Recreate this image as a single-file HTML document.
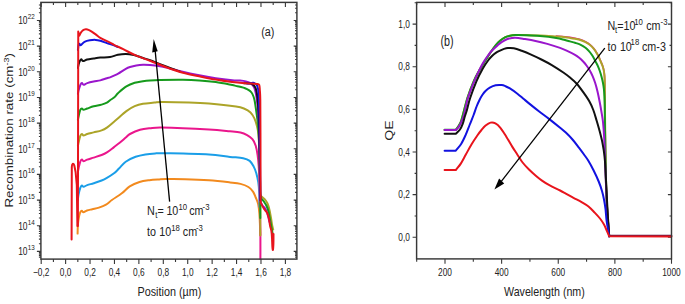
<!DOCTYPE html>
<html><head><meta charset="utf-8"><style>
html,body{margin:0;padding:0;background:#fff;width:685px;height:304px;overflow:hidden;}
svg{display:block;}
text{font-family:"Liberation Sans",sans-serif;}
</style></head><body>
<svg width="685" height="304" viewBox="0 0 685 304">
<rect width="685" height="304" fill="#fff"/>
<path d="M41.2,259.1 V263.9 M41.2,2.4 V7 M53.41,259.1 V261.9 M53.41,2.4 V5 M65.62,259.1 V263.9 M65.62,2.4 V7 M77.83,259.1 V261.9 M77.83,2.4 V5 M90.04,259.1 V263.9 M90.04,2.4 V7 M102.25,259.1 V261.9 M102.25,2.4 V5 M114.46,259.1 V263.9 M114.46,2.4 V7 M126.67,259.1 V261.9 M126.67,2.4 V5 M138.88,259.1 V263.9 M138.88,2.4 V7 M151.09,259.1 V261.9 M151.09,2.4 V5 M163.3,259.1 V263.9 M163.3,2.4 V7 M175.51,259.1 V261.9 M175.51,2.4 V5 M187.72,259.1 V263.9 M187.72,2.4 V7 M199.93,259.1 V261.9 M199.93,2.4 V5 M212.14,259.1 V263.9 M212.14,2.4 V7 M224.35,259.1 V261.9 M224.35,2.4 V5 M236.56,259.1 V263.9 M236.56,2.4 V7 M248.77,259.1 V261.9 M248.77,2.4 V5 M260.98,259.1 V263.9 M260.98,2.4 V7 M273.19,259.1 V261.9 M273.19,2.4 V5 M285.4,259.1 V263.9 M285.4,2.4 V7 M40.9,257.09 H38.9 M296.9,257.09 H295.1 M40.9,255.37 H38.9 M296.9,255.37 H295.1 M40.9,253.89 H38.9 M296.9,253.89 H295.1 M40.9,252.57 H38.9 M296.9,252.57 H295.1 M40.9,251.4 H36.9 M296.9,251.4 H293.7 M40.9,243.68 H38.9 M296.9,243.68 H295.1 M40.9,239.16 H38.9 M296.9,239.16 H295.1 M40.9,235.95 H38.9 M296.9,235.95 H295.1 M40.9,233.46 H38.9 M296.9,233.46 H295.1 M40.9,231.43 H38.9 M296.9,231.43 H295.1 M40.9,229.71 H38.9 M296.9,229.71 H295.1 M40.9,228.23 H38.9 M296.9,228.23 H295.1 M40.9,226.91 H38.9 M296.9,226.91 H295.1 M40.9,225.74 H36.9 M296.9,225.74 H293.7 M40.9,218.02 H38.9 M296.9,218.02 H295.1 M40.9,213.5 H38.9 M296.9,213.5 H295.1 M40.9,210.29 H38.9 M296.9,210.29 H295.1 M40.9,207.8 H38.9 M296.9,207.8 H295.1 M40.9,205.77 H38.9 M296.9,205.77 H295.1 M40.9,204.05 H38.9 M296.9,204.05 H295.1 M40.9,202.57 H38.9 M296.9,202.57 H295.1 M40.9,201.25 H38.9 M296.9,201.25 H295.1 M40.9,200.08 H36.9 M296.9,200.08 H293.7 M40.9,192.36 H38.9 M296.9,192.36 H295.1 M40.9,187.84 H38.9 M296.9,187.84 H295.1 M40.9,184.63 H38.9 M296.9,184.63 H295.1 M40.9,182.14 H38.9 M296.9,182.14 H295.1 M40.9,180.11 H38.9 M296.9,180.11 H295.1 M40.9,178.39 H38.9 M296.9,178.39 H295.1 M40.9,176.91 H38.9 M296.9,176.91 H295.1 M40.9,175.59 H38.9 M296.9,175.59 H295.1 M40.9,174.42 H36.9 M296.9,174.42 H293.7 M40.9,166.7 H38.9 M296.9,166.7 H295.1 M40.9,162.18 H38.9 M296.9,162.18 H295.1 M40.9,158.97 H38.9 M296.9,158.97 H295.1 M40.9,156.48 H38.9 M296.9,156.48 H295.1 M40.9,154.45 H38.9 M296.9,154.45 H295.1 M40.9,152.73 H38.9 M296.9,152.73 H295.1 M40.9,151.25 H38.9 M296.9,151.25 H295.1 M40.9,149.93 H38.9 M296.9,149.93 H295.1 M40.9,148.76 H36.9 M296.9,148.76 H293.7 M40.9,141.04 H38.9 M296.9,141.04 H295.1 M40.9,136.52 H38.9 M296.9,136.52 H295.1 M40.9,133.31 H38.9 M296.9,133.31 H295.1 M40.9,130.82 H38.9 M296.9,130.82 H295.1 M40.9,128.79 H38.9 M296.9,128.79 H295.1 M40.9,127.07 H38.9 M296.9,127.07 H295.1 M40.9,125.59 H38.9 M296.9,125.59 H295.1 M40.9,124.27 H38.9 M296.9,124.27 H295.1 M40.9,123.1 H36.9 M296.9,123.1 H293.7 M40.9,115.38 H38.9 M296.9,115.38 H295.1 M40.9,110.86 H38.9 M296.9,110.86 H295.1 M40.9,107.65 H38.9 M296.9,107.65 H295.1 M40.9,105.16 H38.9 M296.9,105.16 H295.1 M40.9,103.13 H38.9 M296.9,103.13 H295.1 M40.9,101.41 H38.9 M296.9,101.41 H295.1 M40.9,99.93 H38.9 M296.9,99.93 H295.1 M40.9,98.61 H38.9 M296.9,98.61 H295.1 M40.9,97.44 H36.9 M296.9,97.44 H293.7 M40.9,89.72 H38.9 M296.9,89.72 H295.1 M40.9,85.2 H38.9 M296.9,85.2 H295.1 M40.9,81.99 H38.9 M296.9,81.99 H295.1 M40.9,79.5 H38.9 M296.9,79.5 H295.1 M40.9,77.47 H38.9 M296.9,77.47 H295.1 M40.9,75.75 H38.9 M296.9,75.75 H295.1 M40.9,74.27 H38.9 M296.9,74.27 H295.1 M40.9,72.95 H38.9 M296.9,72.95 H295.1 M40.9,71.78 H36.9 M296.9,71.78 H293.7 M40.9,64.06 H38.9 M296.9,64.06 H295.1 M40.9,59.54 H38.9 M296.9,59.54 H295.1 M40.9,56.33 H38.9 M296.9,56.33 H295.1 M40.9,53.84 H38.9 M296.9,53.84 H295.1 M40.9,51.81 H38.9 M296.9,51.81 H295.1 M40.9,50.09 H38.9 M296.9,50.09 H295.1 M40.9,48.61 H38.9 M296.9,48.61 H295.1 M40.9,47.29 H38.9 M296.9,47.29 H295.1 M40.9,46.12 H36.9 M296.9,46.12 H293.7 M40.9,38.4 H38.9 M296.9,38.4 H295.1 M40.9,33.88 H38.9 M296.9,33.88 H295.1 M40.9,30.67 H38.9 M296.9,30.67 H295.1 M40.9,28.18 H38.9 M296.9,28.18 H295.1 M40.9,26.15 H38.9 M296.9,26.15 H295.1 M40.9,24.43 H38.9 M296.9,24.43 H295.1 M40.9,22.95 H38.9 M296.9,22.95 H295.1 M40.9,21.63 H38.9 M296.9,21.63 H295.1 M40.9,20.46 H36.9 M296.9,20.46 H293.7 M40.9,12.74 H38.9 M296.9,12.74 H295.1 M40.9,8.22 H38.9 M296.9,8.22 H295.1 M40.9,5.01 H38.9 M296.9,5.01 H295.1" stroke="#383838" stroke-width="1.1" fill="none"/>
<path d="M77.6,233.6 C77.67,231.07 77.67,228.32 77.8,226 C77.9,224.12 78.07,222.68 78.3,221 C78.54,219.28 78.83,217.41 79.2,215.8 C79.53,214.41 79.88,212.99 80.4,212 C80.75,211.33 81.32,210.75 81.8,210.8 C82.32,210.85 82.66,212.34 83.4,212.3 C84.4,212.24 85.63,210.98 87,210.5 C88.6,209.94 90.42,209.66 92.3,209.2 C94.39,208.69 96.69,208.34 98.9,207.6 C101.26,206.81 103.82,205.88 106,204.6 C108.15,203.34 109.57,201.66 111.9,200 C114.84,197.9 118.74,195.64 121.8,193.3 C124.67,191.11 126.77,188.27 129.7,186.4 C132.67,184.51 136.16,183.05 139.5,182 C142.73,180.98 146.09,180.63 149.4,180.2 C152.69,179.77 156.26,179.6 159.3,179.4 C161.8,179.23 162.81,179.12 166,179.1 C171.37,179.06 178.25,179.01 185,179.2 C192.59,179.41 201.26,179.75 209,180.3 C216.26,180.82 223.86,181.7 230,182.4 C234.36,182.9 237.26,183.09 240.5,183.9 C243.4,184.62 246.18,185.63 248.4,187 C250.35,188.2 251.78,189.85 253,191.6 C254.22,193.35 254.85,195.45 255.7,197.5 C256.59,199.65 257.63,201.7 258.2,204.2 C258.86,207.1 259.12,210.29 259.4,213.7 C259.72,217.56 259.84,222.17 260,226 C260.14,229.27 260.2,232 260.3,235" stroke="#f28a1e" stroke-width="2.0" fill="none" stroke-linejoin="round" stroke-linecap="round"/>
<path d="M77.8,200 C78.07,198.1 78.2,196.25 78.6,194.3 C79.03,192.19 79.63,189.58 80.3,187.8 C80.73,186.65 81.33,185.68 81.9,185.5 C82.39,185.35 82.77,186.86 83.5,186.8 C84.53,186.72 85.72,185.62 87.2,185.1 C89.12,184.42 91.43,183.93 93.7,183.2 C96.23,182.39 99.21,181.46 101.6,180.5 C103.61,179.69 105.02,178.99 106.9,177.9 C109.15,176.59 111.88,174.94 114,173.3 C115.92,171.81 117.21,170.28 119,168.5 C121.11,166.41 123.03,163.58 125.7,161.7 C128.57,159.68 132.24,158.04 135.6,156.8 C138.81,155.61 142.11,154.97 145.4,154.4 C148.67,153.84 151.93,153.6 155.3,153.4 C158.8,153.2 160.04,153.09 166,153.2 C177.94,153.42 196.46,153.68 209,154.4 C217.79,154.91 223.64,156.19 230,156.9 C235.04,157.46 239.4,157.43 243.2,158.2 C245.97,158.76 247.95,159.5 249.7,160.9 C251.45,162.3 252.61,164.56 253.7,166.6 C254.81,168.66 255.59,170.75 256.3,173.2 C257.12,176.02 257.83,179.21 258.3,182.4 C258.8,185.78 259.01,189.1 259.2,192.9 C259.41,197.3 259.4,202.3 259.5,207" stroke="#1a9ee8" stroke-width="2.0" fill="none" stroke-linejoin="round" stroke-linecap="round"/>
<path d="M77.9,172 C78.13,170.73 78.26,169.69 78.6,168.2 C79.06,166.22 79.62,163.38 80.3,161.6 C80.72,160.51 81.35,159.65 81.9,159.6 C82.42,159.55 82.74,161.3 83.5,161.3 C84.51,161.3 85.72,160.14 87.2,159.6 C89.12,158.9 91.42,158.33 93.7,157.6 C96.22,156.79 99.21,155.94 101.6,155 C103.61,154.21 105.04,153.58 106.9,152.4 C109.18,150.95 111.73,148.82 114,147.1 C116.1,145.52 118.04,144.09 120,142.5 C121.97,140.89 123.99,139.04 125.8,137.5 C127.33,136.2 128.03,135.07 130,134 C132.77,132.5 136.61,130.78 140,129.8 C143.28,128.85 146.52,128.57 150,128.2 C153.72,127.8 155.09,127.36 161.6,127.5 C174.76,127.79 195.32,128.74 209,129.5 C218.12,130.01 223.85,130.7 230,131.3 C234.35,131.73 237.37,131.89 240.5,132.6 C243.07,133.19 245.08,134.08 247.1,135.2 C249.05,136.28 251,137.49 252.4,139.2 C253.87,140.99 254.89,143.24 255.7,145.7 C256.62,148.51 257.12,151.75 257.6,155 C258.12,158.51 258.43,161.67 258.7,166 C259.06,171.67 259.3,178.17 259.5,185 C259.73,192.83 259.85,201.67 260,210 C260.15,218.33 260.33,226.75 260.4,235 C260.47,243.08 260.4,251 260.4,259" stroke="#ea168c" stroke-width="2.0" fill="none" stroke-linejoin="round" stroke-linecap="round"/>
<path d="M77.9,146 C78.13,144.83 78.26,143.91 78.6,142.5 C79.06,140.55 79.61,137.67 80.3,135.9 C80.71,134.83 81.35,134.07 81.9,134 C82.42,133.94 82.75,135.5 83.5,135.5 C84.51,135.5 85.72,134.45 87.2,134 C89.12,133.42 91.42,132.97 93.7,132.4 C96.22,131.77 99.23,131.26 101.6,130.4 C103.63,129.66 105.06,128.89 106.9,127.6 C109.19,125.99 111.99,123.38 114,121.7 C115.22,120.68 115.2,120.7 116.6,119.5 C119.33,117.17 123.16,113.48 126.4,111.1 C129.2,109.04 131.87,107.47 134.7,106.2 C137.37,105 139.86,104.26 142.9,103.7 C146.43,103.06 150.92,102.93 154.4,102.6 C157.15,102.33 157.69,101.92 161.6,101.9 C169.22,101.86 180.48,102.11 189,102.4 C196.28,102.65 201.76,102.87 209,103.5 C217.43,104.24 228.48,105.42 236,106.5 C240.12,107.09 241.45,107.5 243.9,108.5 C246.28,109.47 248.72,110.72 250.5,112.4 C252.22,114.02 253.36,116.17 254.4,118.4 C255.52,120.8 256.33,123.64 257,126.3 C257.66,128.91 258.08,130.91 258.4,134.2 C258.85,138.81 259.09,143.97 259.3,150 C259.56,157.57 259.64,167.16 259.8,175 C259.94,181.83 259.6,188.91 260.2,194 C260.47,196.28 261.59,196.17 262.4,197.1 C263.19,198 264.21,198.51 265,199.5 C265.91,200.64 266.82,201.91 267.5,203.5 C268.32,205.41 268.94,207.69 269.5,210 C270.11,212.53 270.53,215.33 271,218 C271.47,220.66 271.86,223.7 272.3,226 C272.59,227.53 272.9,228.33 273.2,229.5" stroke="#aca428" stroke-width="2.0" fill="none" stroke-linejoin="round" stroke-linecap="round"/>
<path d="M77.9,120 C78.13,118.8 78.26,117.84 78.6,116.4 C79.06,114.44 79.59,111.5 80.3,109.8 C80.69,108.87 81.37,108.5 81.9,108.5 C82.43,108.5 82.76,109.8 83.5,109.8 C84.52,109.8 85.74,109 87.2,108.5 C89.14,107.84 91.4,106.92 93.7,106.3 C96.2,105.62 99.21,105.27 101.6,104.6 C103.61,104.04 105.37,103.4 106.9,102.6 C108.17,101.93 108.87,100.99 110,100.2 C111.24,99.33 112.72,98.72 114,97.6 C115.46,96.32 116.4,94.62 118.2,93 C120.54,90.89 123.55,88.16 126.4,86.4 C129.05,84.76 131.9,83.68 134.7,82.8 C137.4,81.95 140.25,81.62 142.9,81.2 C145.35,80.82 147.39,80.6 150,80.4 C153.09,80.17 155.63,79.99 160,79.9 C166.63,79.76 175.89,79.61 183,79.7 C188.99,79.78 193.86,80 199.3,80.4 C204.79,80.8 210.32,81.33 215.8,82.1 C221.29,82.87 227.66,84.15 232.2,85 C234.4,85.41 234.72,85.6 236,85.9 C237.32,86.2 238.59,86.44 240,86.8 C241.59,87.21 243.46,87.62 245,88.2 C246.39,88.72 247.67,89.35 248.8,90.1 C249.84,90.79 250.77,91.54 251.5,92.5 C252.27,93.5 252.81,94.77 253.3,96 C253.81,97.27 254.17,98.49 254.5,100 C254.9,101.82 255.16,103.75 255.5,106 C255.92,108.75 256.39,111.91 256.8,115 C257.23,118.25 257.67,121.25 258,125 C258.4,129.58 258.75,134.58 259,140 C259.29,146.25 259.43,153.33 259.6,160 C259.77,166.67 259.88,173.67 260,180 C260.11,185.67 259.97,191.64 260.3,196 C260.44,197.8 260.83,197.62 261.4,198.5 C262.13,199.62 263.33,200.72 264.2,202 C265.13,203.38 266.09,204.88 266.8,206.5 C267.55,208.21 268.11,210.02 268.6,212 C269.14,214.19 269.47,216.67 269.9,219 C270.33,221.33 270.76,223.63 271.2,226 C271.66,228.46 272.13,231 272.6,233.5" stroke="#169a1c" stroke-width="2.0" fill="none" stroke-linejoin="round" stroke-linecap="round"/>
<path d="M260.3,196 L260.3,235.5" stroke="#aca428" stroke-width="2.0" fill="none" stroke-linejoin="round" stroke-linecap="round"/>
<path d="M260.3,196 L260.3,218" stroke="#169a1c" stroke-width="2.0" fill="none" stroke-linejoin="round" stroke-linecap="round"/>
<path d="M77.9,94 C78.13,92.77 78.21,91.7 78.6,90.3 C79.11,88.5 79.89,85.96 80.6,84.4 C80.99,83.56 81.45,83.04 81.9,83.1 C82.41,83.17 82.74,84.8 83.5,84.8 C84.51,84.8 85.71,83.58 87.2,83.1 C89.11,82.48 91.52,81.95 93.7,81.5 C95.88,81.05 98.12,80.94 100.3,80.4 C102.52,79.84 104.97,78.8 106.9,78.2 C108.21,77.8 108.91,77.8 110,77.4 C111.28,76.93 112.65,76.22 114,75.6 C115.39,74.96 116.55,74.55 118.2,73.6 C120.49,72.28 123.5,70.08 125.8,68.8 C127.44,67.88 128.4,67.5 130,67 C131.9,66.4 134.15,65.86 136.3,65.5 C138.49,65.13 140.74,64.87 143,64.8 C145.31,64.73 147.42,64.87 150,65.1 C153.09,65.37 156.97,65.84 160,66.3 C162.44,66.67 164.09,67.06 166.4,67.6 C169.09,68.23 170.9,68.84 175,69.8 C181.87,71.41 191.83,73.76 199.3,75.3 C205.43,76.56 210.3,77.38 215.8,78.2 C221.26,79.01 227.42,79.73 232.2,80.2 C235.49,80.53 237.56,80.39 240,80.6 C242.13,80.79 244.1,81 245.9,81.4 C247.43,81.74 248.83,82.16 250,82.8 C251.03,83.36 251.78,84.17 252.5,85 C253.22,85.83 253.82,86.65 254.3,87.8 C254.89,89.22 255.31,90.86 255.7,92.7 C256.17,94.92 256.55,97.34 256.9,100 C257.31,103.1 257.7,106.5 258,110 C258.33,113.83 258.6,116.72 258.8,122 C259.1,130.06 259.3,140.5 259.5,150 C259.7,159.83 259.85,170.82 260,180 C260.12,187.49 259.78,194.5 260.3,200 C260.58,202.96 261.57,203.92 262.4,205.4 C263.03,206.52 264.03,206.89 264.7,207.8 C265.4,208.76 266,209.75 266.5,211 C267.1,212.49 267.52,214.24 268,216 C268.52,217.91 269,220 269.5,222" stroke="#9a16cc" stroke-width="2.0" fill="none" stroke-linejoin="round" stroke-linecap="round"/>
<path d="M77.9,68 C78.13,66.83 78.31,65.62 78.6,64.5 C78.87,63.45 79.15,62.4 79.6,61.5 C80.02,60.67 80.62,59.37 81.2,59.3 C81.76,59.23 82.14,61.07 83,61.1 C84.14,61.14 85.59,59.89 87.2,59.5 C89.15,59.03 91.52,58.82 93.7,58.5 C95.89,58.18 97.84,57.83 100.3,57.6 C103.27,57.33 106.94,57.49 110,57 C112.81,56.55 115.25,55.3 117.9,54.8 C120.51,54.3 123.17,53.97 125.8,54 C128.44,54.03 131.2,54.48 133.7,55 C136.03,55.48 138.26,56.35 140.3,57 C142.03,57.55 143.41,58.07 145,58.6 C146.64,59.14 147.94,59.45 150,60.2 C152.94,61.28 156.66,62.82 160,64.1 C163.33,65.38 166.66,66.65 170,67.9 C173.33,69.15 176.67,70.37 180,71.6" stroke="#111111" stroke-width="2.0" fill="none" stroke-linejoin="round" stroke-linecap="round"/>
<path d="M244,83.2 C246.27,83.3 248.88,83.01 250.8,83.5 C252.31,83.88 253.41,84.78 254.3,85.8 C255.21,86.84 255.76,87.84 256.2,89.7 C256.89,92.58 257.32,95.61 257.7,100 C258.25,106.38 258.7,113.35 259,122 C259.4,133.35 259.59,147.17 259.8,160 C260.02,173.17 260.13,186.67 260.3,200" stroke="#111111" stroke-width="2.0" fill="none" stroke-linejoin="round" stroke-linecap="round"/>
<path d="M77.9,50 C78.13,48.33 78.3,46.36 78.6,45 C78.76,44.26 78.99,43.65 79.3,43.7 C79.66,43.75 80.14,45.25 80.6,45.3 C81.04,45.35 81.44,44.5 82,44 C82.74,43.34 83.36,42.34 84.5,41.8 C85.96,41.11 87.97,40.61 89.8,40.3 C91.7,39.98 93.85,39.81 95.7,39.9 C97.35,39.98 98.62,40.32 100.3,40.8 C102.35,41.39 104.65,42.35 106.9,43.1 C109.22,43.88 111.9,44.66 114,45.4 C115.6,45.96 116.67,46.47 118,47" stroke="#1212e0" stroke-width="2.0" fill="none" stroke-linejoin="round" stroke-linecap="round"/>
<path d="M247,83.5 C248.27,83.4 249.64,83.33 250.8,83.2 C251.74,83.1 252.43,82.56 253.3,82.8 C254.39,83.1 255.94,83.73 256.7,84.8 C257.57,86.03 257.9,87.61 258.2,89.7 C258.63,92.67 258.72,95.62 258.9,100 C259.16,106.39 259.34,113.36 259.5,122 C259.71,133.36 259.87,147.17 260,160 C260.14,173.17 260.2,186.67 260.3,200" stroke="#1212e0" stroke-width="2.0" fill="none" stroke-linejoin="round" stroke-linecap="round"/>
<path d="M71.6,239.5 L71.8,167 C71.9,163.6 73.3,162.6 74.3,165.5 L75.6,172 L76.8,185 L77.4,226 L77.9,226 L78.25,31.6 L79.2,35.8  C79.63,34.93 79.98,34.02 80.5,33.2 C81.02,32.38 81.65,31.54 82.3,30.9 C82.88,30.34 83.53,29.88 84.2,29.6 C84.83,29.34 85.51,29.25 86.2,29.3 C86.95,29.35 87.68,29.56 88.5,29.9 C89.51,30.32 90.57,30.89 91.7,31.6 C93.07,32.46 94.57,33.57 96,34.6 C97.44,35.64 98.37,36.7 100.3,37.8 C103.04,39.37 107.23,41.19 110,42.6 C111.8,43.52 112.24,43.92 114,44.8 C116.64,46.12 119.82,47.55 123.2,49.2 C127.25,51.18 131.83,53.78 136.3,55.7 C140.76,57.62 145.22,58.86 150,60.7 C155.26,62.73 160.89,65.29 166.4,67.3 C171.86,69.29 177.37,71.19 182.9,72.7 C188.34,74.19 193.82,75.15 199.3,76.3 C204.79,77.45 210.3,78.63 215.8,79.6 C221.26,80.56 227.02,81.44 232.2,82.1 C236.76,82.68 241.2,83.01 245,83.3 C247.8,83.51 249.82,83.49 252,83.6 C253.88,83.69 255.75,83.64 257.2,83.9 C258.15,84.07 258.85,84.12 259.2,84.9 C259.72,86.05 259.65,87.65 259.8,89.7 C260.02,92.69 260.23,93.72 260.3,100 C260.46,113.82 260.45,133.33 260.5,150 C260.55,166.67 260.42,185.92 260.6,200 C260.65,203.75 260.7,202.21 261.2,203.5 C261.86,205.21 263.06,207.35 264.1,209 C265.02,210.45 266.34,211.31 267.1,212.8 C267.94,214.44 268.43,216.35 268.9,218.4 C269.43,220.75 269.64,223.69 270.1,226 C270.48,227.89 271.11,229.15 271.4,231 C271.74,233.15 271.84,235.5 272,238 C272.18,240.83 272.21,244.47 272.4,247 C272.51,248.47 272.76,250.42 272.9,250 C273.09,249.42 273.31,246.33 273.4,244 C273.51,241 273.47,237.33 273.5,234" stroke="#e8141c" stroke-width="2.0" fill="none" stroke-linejoin="round" stroke-linecap="round"/>
<path d="M169.6,201.6 L155.1,50" stroke="#000" stroke-width="1.3" fill="none"/>
<path d="M153.7,38.9 L152.2,52.4 L157.7,51.2 Z" fill="#000"/>
<rect x="40.9" y="2.4" width="256" height="256.7" fill="none" stroke="#383838" stroke-width="1.45"/>
<path d="M416.69,258.9 V261.7 M416.69,2.4 V5 M445,258.9 V263.7 M445,2.4 V7 M473.31,258.9 V261.7 M473.31,2.4 V5 M501.63,258.9 V263.7 M501.63,2.4 V7 M529.94,258.9 V261.7 M529.94,2.4 V5 M558.25,258.9 V263.7 M558.25,2.4 V7 M586.57,258.9 V261.7 M586.57,2.4 V5 M614.88,258.9 V263.7 M614.88,2.4 V7 M643.19,258.9 V261.7 M643.19,2.4 V5 M671.5,258.9 V263.7 M671.5,2.4 V7 M416.6,237.3 H412.6 M671.5,237.3 H667.9 M416.6,215.98 H414.6 M671.5,215.98 H669.5 M416.6,194.66 H412.6 M671.5,194.66 H667.9 M416.6,173.34 H414.6 M671.5,173.34 H669.5 M416.6,152.02 H412.6 M671.5,152.02 H667.9 M416.6,130.7 H414.6 M671.5,130.7 H669.5 M416.6,109.38 H412.6 M671.5,109.38 H667.9 M416.6,88.06 H414.6 M671.5,88.06 H669.5 M416.6,66.74 H412.6 M671.5,66.74 H667.9 M416.6,45.42 H414.6 M671.5,45.42 H669.5 M416.6,24.1 H412.6 M671.5,24.1 H667.9 M416.6,2.78 H414.6 M671.5,2.78 H669.5" stroke="#383838" stroke-width="1.1" fill="none"/>
<path d="M556.3,36 C559.2,36.23 562.41,36.43 565,36.7 C566.97,36.9 568.34,37.13 570,37.4 C571.67,37.67 573.31,37.96 575,38.3 C576.75,38.66 578.56,38.95 580.3,39.5 C582.06,40.05 583.89,40.78 585.5,41.6 C587.02,42.38 588.39,43.26 589.7,44.3 C591.03,45.36 592.32,46.64 593.4,47.9 C594.42,49.08 595.19,50.35 596,51.6 C596.79,52.82 597.56,54.05 598.2,55.3 C598.82,56.51 599.28,57.78 599.8,59 C600.31,60.18 600.82,61.33 601.3,62.5 C601.78,63.66 602.3,64.77 602.7,66 C603.13,67.3 603.52,68.62 603.8,70.1 C604.12,71.78 604.35,73.4 604.5,75.5 C604.69,78.2 604.75,80.62 604.8,84.5 C604.88,90.28 604.84,97.42 604.9,104.5 C604.97,112.42 605.09,120.75 605.2,129.5 C605.32,139.08 605.42,149.5 605.6,159.5 C605.78,169.5 605.95,179.92 606.3,189.5 C606.62,198.25 607.1,206.48 607.6,214.5 C608.06,221.91 608.67,228.7 609.2,235.8" stroke="#ea168c" stroke-width="1.6" fill="none" stroke-linejoin="round" stroke-linecap="round"/>
<path d="M444.6,129.9 L455.8,129.9 C456.73,128.6 457.74,127.5 458.6,126 C459.6,124.26 460.38,123.44 461.4,120.2 C463.34,114.04 465.28,104.78 467.5,97.8 C469.48,91.58 471.73,85.79 474,80.6 C475.9,76.26 477.97,72.78 480,69.2 C481.87,65.92 483.91,62.86 485.7,60 C487.24,57.53 488.42,55.53 490,53.2 C491.72,50.66 493.76,47.68 495.6,45.4 C497.1,43.54 498.37,42.16 500,40.8 C501.64,39.43 503.61,38.11 505.4,37.2 C506.94,36.41 508.37,36.04 510,35.7 C511.74,35.34 513.34,35.19 515.5,35.1 C518.34,34.99 521.38,35.06 525,35.1 C529.55,35.16 534.89,35.17 540,35.4 C545.33,35.64 551.49,36.15 556.3,36.5 C559.82,36.75 562.41,36.93 565,37.2 C566.97,37.4 568.34,37.63 570,37.9 C571.67,38.17 573.31,38.46 575,38.8 C576.75,39.16 578.56,39.45 580.3,40 C582.06,40.55 583.89,41.28 585.5,42.1 C587.02,42.88 588.39,43.76 589.7,44.8 C591.03,45.86 592.32,47.14 593.4,48.4 C594.42,49.58 595.19,50.85 596,52.1 C596.79,53.32 597.56,54.55 598.2,55.8 C598.82,57.01 599.28,58.28 599.8,59.5 C600.31,60.68 600.82,61.83 601.3,63 C601.78,64.16 602.3,65.27 602.7,66.5 C603.13,67.8 603.52,69.12 603.8,70.6 C604.12,72.28 604.35,73.9 604.5,76 C604.69,78.7 604.75,81.12 604.8,85 C604.88,90.78 604.84,97.92 604.9,105 C604.97,112.92 605.09,121.25 605.2,130 C605.32,139.58 605.42,150 605.6,160 C605.78,170 605.95,180.42 606.3,190 C606.62,198.75 607.1,206.98 607.6,215 C608.06,222.41 608.67,229.2 609.2,236.3" stroke="#aca428" stroke-width="2.0" fill="none" stroke-linejoin="round" stroke-linecap="round"/>
<path d="M444.6,129.8 L455.8,129.8 C456.73,128.53 457.74,127.48 458.6,126 C459.61,124.28 460.38,123.44 461.4,120.2 C463.34,114.04 465.28,104.78 467.5,97.8 C469.48,91.58 471.73,85.79 474,80.6 C475.9,76.26 477.97,72.78 480,69.2 C481.87,65.92 483.91,62.86 485.7,60 C487.24,57.53 488.42,55.53 490,53.2 C491.72,50.66 493.76,47.68 495.6,45.4 C497.1,43.54 498.37,42.16 500,40.8 C501.64,39.43 503.61,38.11 505.4,37.2 C506.94,36.41 508.37,36.04 510,35.7 C511.74,35.34 513.34,35.17 515.5,35.1 C518.34,35.01 521.38,35.08 525,35.2 C529.55,35.35 534.9,35.46 540,35.9 C545.33,36.36 551.51,37.11 556.3,37.9 C559.84,38.48 562.41,39.34 565,40 C566.97,40.5 568.33,40.93 570,41.4 C571.67,41.87 573.32,42.28 575,42.8 C576.75,43.34 578.58,43.8 580.3,44.6 C582.08,45.43 583.96,46.54 585.5,47.7 C586.92,48.77 588.11,50.07 589.2,51.3 C590.21,52.43 591,53.61 591.8,54.8 C592.57,55.95 593.24,57.11 593.9,58.3 C594.57,59.51 595.16,60.76 595.8,62 C596.46,63.26 597.18,64.4 597.8,65.8 C598.51,67.4 599.19,69.19 599.8,71 C600.45,72.92 601.06,74.99 601.6,77 C602.13,78.99 602.62,80.99 603,83 C603.38,84.99 603.68,86.89 603.9,89 C604.14,91.32 604.27,93.75 604.4,96.3 C604.54,99.08 604.63,100.83 604.7,105 C604.83,112.06 604.87,121.25 605,130 C605.14,139.58 605.3,150 605.5,160 C605.7,170 605.85,180.42 606.2,190 C606.52,198.75 606.98,206.98 607.5,215 C607.98,222.41 608.63,229.2 609.2,236.3" stroke="#169a1c" stroke-width="2.0" fill="none" stroke-linejoin="round" stroke-linecap="round"/>
<path d="M444.6,130.1 L455.8,130.1 C456.8,129.03 457.92,128.26 458.8,126.9 C459.88,125.23 460.84,122.95 461.7,121 C462.51,119.15 463.05,118.25 463.8,115.5 C465.09,110.75 466.09,104.12 467.8,98.5 C469.55,92.75 471.97,86.79 474.2,81.4 C476.24,76.46 478.56,71.57 480.6,67.5 C482.13,64.44 483.53,62.23 484.9,60 C485.99,58.23 486.91,56.98 488,55.5 C489.11,53.98 490.06,52.53 491.5,51 C493.23,49.16 495.6,47.07 497.5,45.4 C499.1,44 500.37,42.85 502,41.8 C503.67,40.72 505.64,39.66 507.4,39 C508.91,38.43 510.4,38.31 511.8,38.1 C513.04,37.91 513.75,37.7 515.3,37.8 C517.71,37.96 520.62,38.43 523.7,38.9 C527.36,39.46 531.58,40.07 535.5,40.9 C539.45,41.74 543.31,42.76 547.3,43.9 C551.47,45.09 556.29,46.61 560,47.9 C562.72,48.84 564.27,49.53 566.6,50.6 C569.27,51.83 572.59,53.42 575,54.8 C576.79,55.82 577.84,56.67 579.2,57.8 C580.64,59 582.13,60.46 583.4,61.8 C584.56,63.02 585.51,64.17 586.5,65.5 C587.55,66.91 588.55,68.36 589.5,70 C590.55,71.8 591.59,73.72 592.5,75.8 C593.49,78.06 594.39,80.47 595.2,83 C596.06,85.71 596.79,88.53 597.5,91.5 C598.26,94.7 598.95,98.16 599.6,101.5 C600.25,104.83 600.84,108.12 601.4,111.5 C601.97,114.95 602.58,118.04 603,122 C603.51,126.87 603.89,132.17 604.2,138 C604.56,144.83 604.73,152.83 605,160 C605.26,166.83 605.47,172.51 605.8,180 C606.2,189.18 606.61,200.31 607.2,210 C607.75,219.08 608.53,227.53 609.2,236.3" stroke="#9a16cc" stroke-width="2.0" fill="none" stroke-linejoin="round" stroke-linecap="round"/>
<path d="M444.6,133.8 L455.8,133.8 C457.13,132.47 458.69,131.39 459.8,129.8 C460.99,128.09 461.9,126.03 462.7,123.9 C463.57,121.6 464.08,118.84 464.8,116.5 C465.45,114.38 466.08,113 466.8,110.5 C467.81,107 468.55,102.88 470,98.5 C471.75,93.18 474.14,86.7 476.4,81.4 C478.41,76.7 480.65,72.34 482.8,68.5 C484.55,65.37 486.38,62.83 488.1,60.5 C489.45,58.66 490.66,57.34 492,56 C493.23,54.77 494.45,53.71 495.8,52.8 C497.12,51.91 498.6,51.26 500,50.6 C501.34,49.96 502.66,49.34 504,48.9 C505.29,48.48 506.42,48.11 507.9,48 C509.69,47.87 511.7,47.77 513.8,48.2 C516.3,48.71 518.92,49.75 521.7,50.8 C524.85,51.99 528.33,53.45 531.6,54.9 C534.89,56.35 538.11,57.84 541.4,59.5 C544.84,61.24 548.25,62.98 551.8,65.1 C555.69,67.42 560.23,70.42 563.7,72.8 C566.3,74.58 567.92,75.86 570,77.6 C572.19,79.43 574.41,81.19 576.5,83.5 C578.87,86.12 581.24,89.39 583.4,92.4 C585.5,95.33 587.61,98.29 589.3,101.3 C590.91,104.15 592.13,106.91 593.3,110 C594.56,113.31 595.55,116.99 596.6,120.5 C597.65,123.99 598.65,127.4 599.6,131 C600.59,134.77 601.61,138.57 602.4,142.6 C603.24,146.9 603.99,151.47 604.5,156 C605.02,160.61 605.2,164.84 605.5,170 C605.86,176.17 606.16,183.17 606.5,190 C606.86,197.17 607.16,204.48 607.6,212 C608.06,219.91 608.67,228.2 609.2,236.3" stroke="#111111" stroke-width="2.0" fill="none" stroke-linejoin="round" stroke-linecap="round"/>
<path d="M444.6,150.7 L455.8,150.7 C457.63,148.37 459.69,146.28 461.3,143.7 C462.99,140.98 464.34,137.87 465.7,134.8 C467.1,131.64 468.29,128.28 469.6,125 C470.92,121.68 472.38,118.22 473.6,115 C474.71,112.05 475.56,109.15 476.6,106.5 C477.53,104.15 478.5,102.02 479.5,100 C480.4,98.19 481.27,96.54 482.3,95 C483.27,93.54 484.27,92.21 485.5,91 C486.77,89.75 488.16,88.52 489.8,87.6 C491.56,86.62 493.7,85.72 495.7,85.3 C497.63,84.89 499.81,84.94 501.6,85.1 C503.08,85.24 504.22,85.7 505.5,86.2 C506.85,86.73 507.89,87.19 509.5,88.2 C511.86,89.69 514.96,91.86 517.4,93.7 C519.6,95.36 521.41,97.04 523.4,98.7 C525.37,100.34 527,101.73 529.3,103.6 C532.26,106 535.89,108.93 539.2,111.5 C542.46,114.03 545.64,116.28 549,118.9 C552.61,121.72 556.85,125.15 560.1,127.8 C562.45,129.72 563.86,130.77 565.8,132.6 C568,134.67 570.36,137.04 572.5,139.5 C574.72,142.04 576.89,144.98 578.9,147.6 C580.73,149.98 582.39,152.26 584,154.5 C585.49,156.56 586.79,158.17 588.2,160.5 C589.92,163.34 591.72,166.64 593.4,170 C595.22,173.64 597.18,177.8 598.7,181.5 C600.05,184.8 601.09,187.89 602,191 C602.85,193.89 603.43,196.57 604,199.5 C604.6,202.57 605.09,205.66 605.5,209 C605.95,212.66 606.03,216.32 606.6,220.5 C607.27,225.42 608.33,231.03 609.2,236.3" stroke="#1212e0" stroke-width="2.0" fill="none" stroke-linejoin="round" stroke-linecap="round"/>
<path d="M609.2,235.6 L671.5,235.6" stroke="#5a1a4a" stroke-width="1.6" fill="none" stroke-linejoin="round" stroke-linecap="round"/>
<path d="M444.6,170.1 L455.8,170.1 C457.47,167.93 459.23,166.02 460.8,163.6 C462.53,160.92 463.98,157.88 465.7,154.8 C467.58,151.42 469.57,147.56 471.6,144.2 C473.51,141.03 475.65,137.86 477.5,135.2 C478.95,133.12 480.12,131.63 481.5,130 C482.82,128.43 484.08,126.85 485.6,125.6 C487.08,124.38 488.81,123 490.5,122.6 C492.07,122.23 493.88,122.5 495.4,123.3 C497.18,124.23 498.79,125.82 500.4,127.8 C502.43,130.29 504.37,133.63 506.3,136.7 C508.3,139.89 510.3,143.52 512.2,146.6 C513.86,149.29 515.33,151.44 517,154 C518.8,156.74 520.56,159.87 522.6,162.5 C524.56,165.04 526.78,167.28 529,169.5 C531.18,171.68 533.55,173.78 535.8,175.7 C537.88,177.48 539.83,179.08 542,180.6 C544.2,182.14 546.21,183.43 548.9,184.9 C552.24,186.73 556.82,188.81 560.1,190.5 C562.46,191.71 563.73,192.47 565.8,193.6 C568.2,194.91 570.9,196.4 573.5,197.8 C576.16,199.23 579.03,200.61 581.6,202.1 C584.03,203.51 586.35,204.78 588.5,206.5 C590.72,208.28 592.74,210.55 594.7,212.6 C596.57,214.55 598.41,216.47 600,218.5 C601.51,220.44 602.87,222.5 604,224.5 C605.04,226.33 605.66,228.1 606.5,230 C607.39,232.03 608.3,234.2 609.2,236.3 L671.5,236.5" stroke="#e8141c" stroke-width="2.0" fill="none" stroke-linejoin="round" stroke-linecap="round"/>
<path d="M604.8,48.1 L501.3,181.4" stroke="#000" stroke-width="1.3" fill="none"/>
<path d="M494.4,189.5 L499.1,178.6 L504.2,183.5 Z" fill="#000"/>
<rect x="416.6" y="2.4" width="254.9" height="256.5" fill="none" stroke="#383838" stroke-width="1.45"/>
<text transform="translate(41.2,276.2) scale(0.8,1)" font-size="10.4" text-anchor="middle" fill="#222">−0,2</text>
<text transform="translate(65.62,276.2) scale(0.8,1)" font-size="10.4" text-anchor="middle" fill="#222">0,0</text>
<text transform="translate(90.04,276.2) scale(0.8,1)" font-size="10.4" text-anchor="middle" fill="#222">0,2</text>
<text transform="translate(114.46,276.2) scale(0.8,1)" font-size="10.4" text-anchor="middle" fill="#222">0,4</text>
<text transform="translate(138.88,276.2) scale(0.8,1)" font-size="10.4" text-anchor="middle" fill="#222">0,6</text>
<text transform="translate(163.3,276.2) scale(0.8,1)" font-size="10.4" text-anchor="middle" fill="#222">0,8</text>
<text transform="translate(187.72,276.2) scale(0.8,1)" font-size="10.4" text-anchor="middle" fill="#222">1,0</text>
<text transform="translate(212.14,276.2) scale(0.8,1)" font-size="10.4" text-anchor="middle" fill="#222">1,2</text>
<text transform="translate(236.56,276.2) scale(0.8,1)" font-size="10.4" text-anchor="middle" fill="#222">1,4</text>
<text transform="translate(260.98,276.2) scale(0.8,1)" font-size="10.4" text-anchor="middle" fill="#222">1,6</text>
<text transform="translate(285.4,276.2) scale(0.8,1)" font-size="10.4" text-anchor="middle" fill="#222">1,8</text>
<text transform="translate(27.5,255.2) scale(0.75,1)" font-size="11.232000000000001" text-anchor="end" fill="#222">10</text>
<text transform="translate(27.8,250.4) scale(0.8,1)" font-size="7.800000000000001" text-anchor="start" fill="#222">13</text>
<text transform="translate(27.5,229.54) scale(0.75,1)" font-size="11.232000000000001" text-anchor="end" fill="#222">10</text>
<text transform="translate(27.8,224.74) scale(0.8,1)" font-size="7.800000000000001" text-anchor="start" fill="#222">14</text>
<text transform="translate(27.5,203.88) scale(0.75,1)" font-size="11.232000000000001" text-anchor="end" fill="#222">10</text>
<text transform="translate(27.8,199.08) scale(0.8,1)" font-size="7.800000000000001" text-anchor="start" fill="#222">15</text>
<text transform="translate(27.5,178.22) scale(0.75,1)" font-size="11.232000000000001" text-anchor="end" fill="#222">10</text>
<text transform="translate(27.8,173.42) scale(0.8,1)" font-size="7.800000000000001" text-anchor="start" fill="#222">16</text>
<text transform="translate(27.5,152.56) scale(0.75,1)" font-size="11.232000000000001" text-anchor="end" fill="#222">10</text>
<text transform="translate(27.8,147.76) scale(0.8,1)" font-size="7.800000000000001" text-anchor="start" fill="#222">17</text>
<text transform="translate(27.5,126.9) scale(0.75,1)" font-size="11.232000000000001" text-anchor="end" fill="#222">10</text>
<text transform="translate(27.8,122.1) scale(0.8,1)" font-size="7.800000000000001" text-anchor="start" fill="#222">18</text>
<text transform="translate(27.5,101.24) scale(0.75,1)" font-size="11.232000000000001" text-anchor="end" fill="#222">10</text>
<text transform="translate(27.8,96.44) scale(0.8,1)" font-size="7.800000000000001" text-anchor="start" fill="#222">19</text>
<text transform="translate(27.5,75.58) scale(0.75,1)" font-size="11.232000000000001" text-anchor="end" fill="#222">10</text>
<text transform="translate(27.8,70.78) scale(0.8,1)" font-size="7.800000000000001" text-anchor="start" fill="#222">20</text>
<text transform="translate(27.5,49.92) scale(0.75,1)" font-size="11.232000000000001" text-anchor="end" fill="#222">10</text>
<text transform="translate(27.8,45.12) scale(0.8,1)" font-size="7.800000000000001" text-anchor="start" fill="#222">21</text>
<text transform="translate(27.5,24.26) scale(0.75,1)" font-size="11.232000000000001" text-anchor="end" fill="#222">10</text>
<text transform="translate(27.8,19.46) scale(0.8,1)" font-size="7.800000000000001" text-anchor="start" fill="#222">22</text>
<text transform="translate(445,275.6) scale(0.8,1)" font-size="10.4" text-anchor="middle" fill="#222">200</text>
<text transform="translate(501.63,275.6) scale(0.8,1)" font-size="10.4" text-anchor="middle" fill="#222">400</text>
<text transform="translate(558.25,275.6) scale(0.8,1)" font-size="10.4" text-anchor="middle" fill="#222">600</text>
<text transform="translate(614.88,275.6) scale(0.8,1)" font-size="10.4" text-anchor="middle" fill="#222">800</text>
<text transform="translate(671.5,275.6) scale(0.8,1)" font-size="10.4" text-anchor="middle" fill="#222">1000</text>
<text transform="translate(409.9,241) scale(0.8,1)" font-size="10.4" text-anchor="end" fill="#222">0,0</text>
<text transform="translate(409.9,198.36) scale(0.8,1)" font-size="10.4" text-anchor="end" fill="#222">0,2</text>
<text transform="translate(409.9,155.72) scale(0.8,1)" font-size="10.4" text-anchor="end" fill="#222">0,4</text>
<text transform="translate(409.9,113.08) scale(0.8,1)" font-size="10.4" text-anchor="end" fill="#222">0,6</text>
<text transform="translate(409.9,70.44) scale(0.8,1)" font-size="10.4" text-anchor="end" fill="#222">0,8</text>
<text transform="translate(409.9,27.8) scale(0.8,1)" font-size="10.4" text-anchor="end" fill="#222">1,0</text>
<text transform="translate(169.4,296.4) scale(0.885,1)" font-size="12.2" text-anchor="middle" fill="#222">Position (µm)</text>
<text transform="translate(544.4,295.8) scale(0.89,1)" font-size="12" text-anchor="middle" fill="#222">Wavelength (nm)</text>
<text transform="translate(13.4,207.6) rotate(-90) scale(1,0.85)" font-size="13.4" fill="#222">Recombination rate (cm<tspan dy="-5.5" font-size="9">-3</tspan><tspan dy="5.5">)</tspan></text>
<text transform="translate(393.3,140.7) rotate(-90) scale(1,0.76)" font-size="14" fill="#222">QE</text>
<text transform="translate(261.2,36.1) scale(0.8,1)" font-size="13.5" text-anchor="start" fill="#222">(a)</text>
<text transform="translate(440.4,46.4) scale(0.78,1)" font-size="13.8" text-anchor="start" fill="#222">(b)</text>
<text transform="translate(147,215) scale(0.88,1)" font-size="12.2" text-anchor="start" fill="#222">N</text>
<text transform="translate(155.3,218.4) scale(0.88,1)" font-size="8.8" text-anchor="start" fill="#222">t</text>
<text transform="translate(157.6,215) scale(0.88,1)" font-size="12.2" text-anchor="start" fill="#222">=</text>
<text transform="translate(166.4,215) scale(0.88,1)" font-size="12.2" text-anchor="start" fill="#222">10</text>
<text transform="translate(178.4,209.8) scale(0.88,1)" font-size="8.8" text-anchor="start" fill="#222">10</text>
<text transform="translate(189.2,215) scale(0.88,1)" font-size="12.2" text-anchor="start" fill="#222">cm</text>
<text transform="translate(202.6,209.8) scale(0.88,1)" font-size="8.8" text-anchor="start" fill="#222">-3</text>
<text transform="translate(147,235.7) scale(0.88,1)" font-size="12.2" text-anchor="start" fill="#222">to</text>
<text transform="translate(159.2,235.7) scale(0.88,1)" font-size="12.2" text-anchor="start" fill="#222">10</text>
<text transform="translate(171.2,230.5) scale(0.88,1)" font-size="8.8" text-anchor="start" fill="#222">18</text>
<text transform="translate(182.8,235.7) scale(0.88,1)" font-size="12.2" text-anchor="start" fill="#222">cm</text>
<text transform="translate(196,230.5) scale(0.88,1)" font-size="8.8" text-anchor="start" fill="#222">-3</text>
<text transform="translate(607.4,29.8) scale(0.88,1)" font-size="12.2" text-anchor="start" fill="#222">N</text>
<text transform="translate(615,33.2) scale(0.88,1)" font-size="8.8" text-anchor="start" fill="#222">t</text>
<text transform="translate(617.2,29.8) scale(0.88,1)" font-size="12.2" text-anchor="start" fill="#222">=</text>
<text transform="translate(623.6,29.8) scale(0.88,1)" font-size="12.2" text-anchor="start" fill="#222">10</text>
<text transform="translate(634.2,24.6) scale(0.88,1)" font-size="8.8" text-anchor="start" fill="#222">10</text>
<text transform="translate(646.2,29.8) scale(0.88,1)" font-size="12.2" text-anchor="start" fill="#222">cm</text>
<text transform="translate(660.6,24.6) scale(0.88,1)" font-size="8.8" text-anchor="start" fill="#222">-3</text>
<text transform="translate(607.4,50.6) scale(0.88,1)" font-size="12.2" text-anchor="start" fill="#222">to</text>
<text transform="translate(619.9,50.6) scale(0.88,1)" font-size="12.2" text-anchor="start" fill="#222">10</text>
<text transform="translate(630.6,45.4) scale(0.88,1)" font-size="8.8" text-anchor="start" fill="#222">18</text>
<text transform="translate(642,50.6) scale(0.88,1)" font-size="12.2" text-anchor="start" fill="#222">cm-3</text>
</svg>
</body></html>
